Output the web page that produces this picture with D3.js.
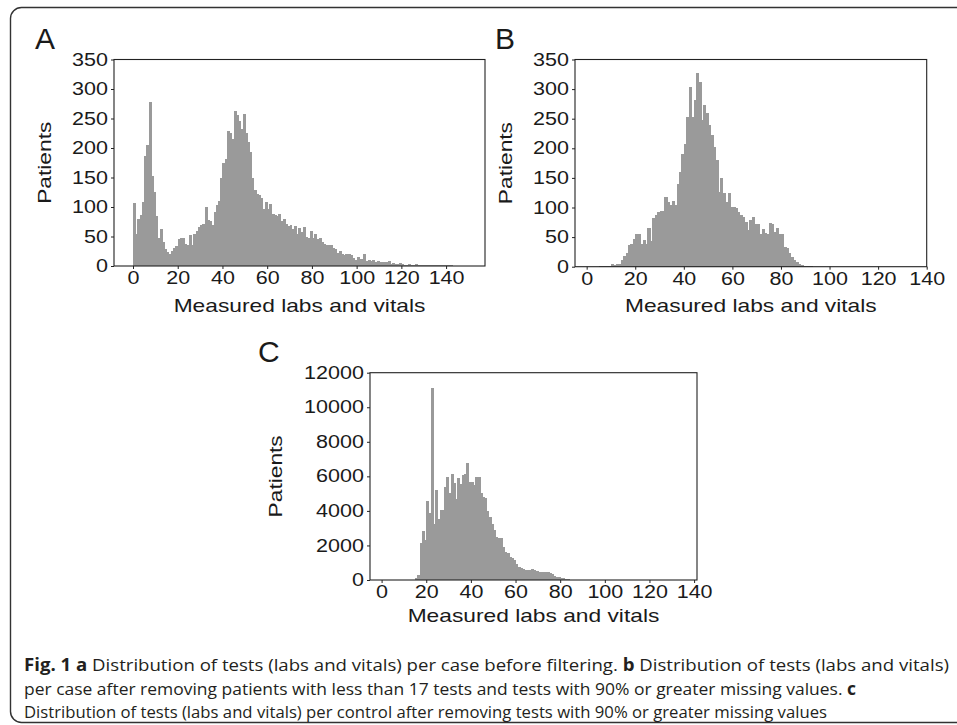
<!DOCTYPE html>
<html>
<head>
<meta charset="utf-8">
<script src="https://cdn.jsdelivr.net/npm/d3@7"></script>
<style>
  body { margin: 0; background: #fff; }
  svg { display: block; }
  text { font-family: "Liberation Sans", Arial, sans-serif; fill: #1a1a1a; }
  .caption text { font-family: "Liberation Sans Narrow", "Open Sans", sans-serif; fill: #231f20; }
</style>
</head>
<body>
<svg id="fig" width="957" height="725"></svg>
<script>
// tick labels
const xTicks = [0, 20, 40, 60, 80, 100, 120, 140];
const yTicksAB = [0, 50, 100, 150, 200, 250, 300, 350];
const yTicksC = [0, 2000, 4000, 6000, 8000, 10000, 12000];

// A: tests per case before filtering (one bin per test count, first bin at startA)
const startA = 0;
const casesBefore = [
  107, 55, 80, 86, 108, 186, 205, 278, 152, 125, 84, 48, 62, 40, 28, 24, 20, 26, 30, 34,
  45, 47, 47, 38, 35, 52, 36, 55, 60, 66, 70, 72, 100, 78, 76, 70, 92, 104, 110, 150,
  175, 182, 228, 226, 215, 262, 256, 245, 232, 258, 225, 210, 193, 150, 128, 122, 120, 115, 97, 108,
  97, 105, 88, 86, 84, 88, 76, 80, 72, 68, 70, 63, 67, 55, 65, 57, 66, 50, 48, 60,
  47, 55, 46, 48, 40, 38, 36, 35, 36, 30, 28, 22, 25, 20, 18, 20, 20, 18, 13, 10,
  15, 12, 12, 20, 8, 11, 9, 10, 7, 8, 6, 7, 7, 6, 8, 4, 5, 3, 3, 5,
  4, 2, 2, 3, 2, 2, 3, 1, 2, 2, 2, 1, 1, 1, 1, 2, 1, 1, 1, 1,
  1, 1, 1, 0.5, 0.5
];

// B: tests per case after filtering
const startB = 5;
const casesAfter = [
  0.5, 1, 1, 2, 1, 4, 3, 4, 4, 11, 18, 23, 37, 38, 47,
  56, 55, 38, 45, 38, 66, 44, 83, 88, 93,
  94, 94, 118, 110, 105, 111, 104, 140, 160, 190,
  208, 253, 304, 253, 281, 327, 312, 248, 273, 259,
  239, 222, 203, 180, 127, 149, 124, 110, 124, 101,
  101, 100, 93, 87, 84, 76, 62, 79, 84, 72,
  72, 56, 63, 57, 56, 74, 72, 59, 65, 56,
  56, 34, 31, 23, 17, 11, 8, 5, 3, 2, 1, 1, 0.5
];

// C: tests per control after filtering
const startC = 15;
const controlsAfter = [
  135, 290, 2160, 2855, 2315, 4590, 3900, 11094, 3240, 5210,
  3530, 4050, 4050, 5400, 5980, 5016, 6135, 5595, 4670, 5900,
  5560, 6080, 6135, 6750, 5690, 5650, 5500, 5940, 5940, 5016,
  4820, 4730, 4010, 3670, 3240, 2890, 2510, 2410, 2410, 1930,
  1640, 1540, 1310, 1250, 1160, 925, 730, 675, 620, 600,
  600, 580, 620, 560, 520, 490, 480, 480, 480, 470,
  420, 330, 260, 190, 150, 130, 100, 60, 40, 25, 15, 10
];

const barColor = "#9a9a9a";
const svg = d3.select("#fig");

// rounded frame round the whole figure
svg.append("rect")
  .attr("x", 10.5).attr("y", 7.5)
  .attr("width", 1000).attr("height", 715)
  .attr("rx", 11)
  .attr("fill", "none")
  .attr("stroke", "#333")
  .attr("stroke-width", 1.4);

function drawPanel(p) {
  const g = svg.append("g");

  const x = d3.scaleLinear().domain(p.xDomain).range([p.left, p.right]);
  const y = d3.scaleLinear().domain([0, p.yMax]).range([p.bottom, p.top]);

  // bars overlap a little and snap to pixels so no white seams show
  g.selectAll("rect.bar")
    .data(p.counts)
    .enter()
    .append("rect")
    .attr("class", "bar")
    .attr("x", (d, i) => x(p.start + i))
    .attr("width", (d, i) => x(p.start + i + 1) - x(p.start + i) + 0.7)
    .attr("y", d => y(d))
    .attr("height", d => y(0) - y(d))
    .attr("fill", barColor)
    .attr("shape-rendering", "crispEdges");

  // frame of the plot
  g.append("rect")
    .attr("x", p.left).attr("y", p.top)
    .attr("width", p.right - p.left).attr("height", p.bottom - p.top)
    .attr("fill", "none")
    .attr("stroke", "#222")
    .attr("stroke-width", 1.1);

  const xAxis = g.append("g")
    .attr("transform", "translate(0," + p.bottom + ")")
    .call(d3.axisBottom(x).tickValues(xTicks).tickSize(3).tickPadding(3).tickFormat(d3.format("d")));
  const yAxis = g.append("g")
    .attr("transform", "translate(" + p.left + ",0)")
    .call(d3.axisLeft(y).tickValues(p.yTicks).tickSize(3).tickPadding(3).tickFormat(d3.format("d")));

  [xAxis, yAxis].forEach(a => {
    a.select(".domain").remove();
    a.attr("font-family", null).attr("font-size", null);
    a.selectAll(".tick line").attr("stroke", "#222");
    a.selectAll(".tick text")
      .attr("class", "wide")
      .style("font-size", "17.5px")
      .attr("fill", "#1a1a1a");
  });

  g.append("text")
    .attr("class", "wide")
    .attr("x", (p.left + p.right) / 2)
    .attr("y", p.titleY)
    .attr("text-anchor", "middle")
    .style("font-size", "18.5px")
    .text("Measured labs and vitals");

  g.append("text")
    .attr("class", "wide")
    .attr("transform", "translate(" + p.ylabelX + "," + (p.top + p.bottom) / 2 + ") rotate(-90)")
    .attr("text-anchor", "middle")
    .style("font-size", "18.5px")
    .text("Patients");

  g.append("text")
    .attr("x", p.letterX)
    .attr("y", p.letterY)
    .style("font-size", "30px")
    .text(p.letter);
}

drawPanel({
  letter: "A", letterX: 35, letterY: 49,
  left: 114, right: 485, top: 59.5, bottom: 266,
  xDomain: [-8.5, 157.4], yMax: 350, yTicks: yTicksAB,
  start: startA, counts: casesBefore,
  titleY: 312, ylabelX: 50.5
});

drawPanel({
  letter: "B", letterX: 495, letterY: 49,
  left: 575, right: 926.7, top: 59.5, bottom: 266.7,
  xDomain: [-4.8, 140], yMax: 350, yTicks: yTicksAB,
  start: startB, counts: casesAfter,
  titleY: 312, ylabelX: 511.5
});

drawPanel({
  letter: "C", letterX: 258, letterY: 362,
  left: 370, right: 697, top: 372.7, bottom: 580,
  xDomain: [-5.2, 141.3], yMax: 12000, yTicks: yTicksC,
  start: startC, counts: controlsAfter,
  titleY: 622, ylabelX: 281.5
});

// widen the chart lettering like the original export
svg.selectAll("text.wide").each(function () {
  const w = this.getComputedTextLength();
  this.setAttribute("textLength", (w * 1.23).toFixed(1));
  this.setAttribute("lengthAdjust", "spacingAndGlyphs");
});

// caption
const captionLines = [
  { y: 671, w: 925, parts: [["Fig. 1 a", true], [" Distribution of tests (labs and vitals) per case before filtering. ", false], ["b", true], [" Distribution of tests (labs and vitals)", false]] },
  { y: 694.5, w: 832, parts: [["per case after removing patients with less than 17 tests and tests with 90% or greater missing values. ", false], ["c", true]] },
  { y: 718, w: 803, parts: [["Distribution of tests (labs and vitals) per control after removing tests with 90% or greater missing values", false]] }
];

const cap = svg.append("g").attr("class", "caption");
captionLines.forEach(line => {
  const t = cap.append("text")
    .attr("x", 24)
    .attr("y", line.y)
    .attr("textLength", line.w)
    .attr("lengthAdjust", "spacingAndGlyphs")
    .style("font-size", "17px");
  line.parts.forEach(part => {
    t.append("tspan")
      .attr("font-weight", part[1] ? "bold" : "normal")
      .text(part[0]);
  });
});
</script>
</body>
</html>
